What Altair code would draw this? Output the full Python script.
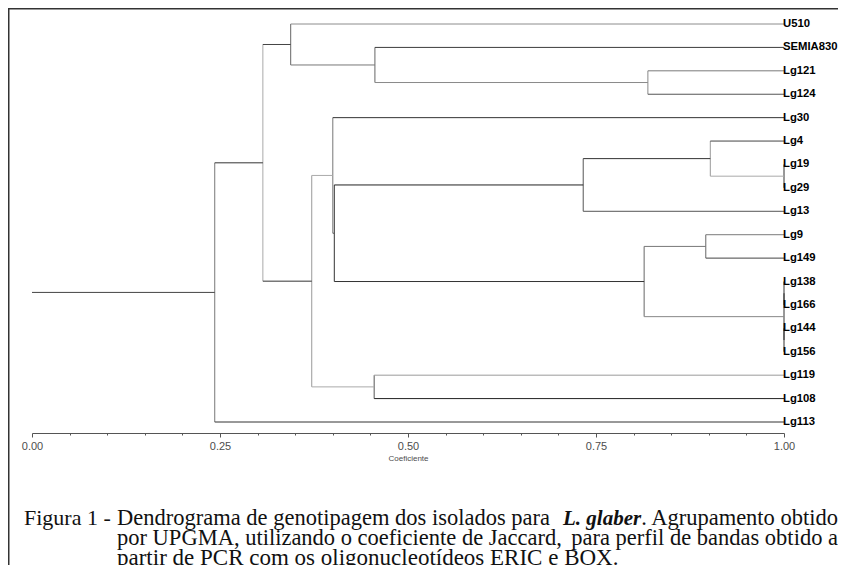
import altair as alt
import pandas as pd

# ---------------- data ----------------
leaves = ["U510", "SEMIA830", "Lg121", "Lg124", "Lg30", "Lg4", "Lg19", "Lg29",
          "Lg13", "Lg9", "Lg149", "Lg138", "Lg166", "Lg144", "Lg156",
          "Lg119", "Lg108", "Lg113"]

merge_node = ["n18", "n19", "n20", "n21", "n22", "n23", "n24", "n25", "n26",
              "n27", "n28", "n29", "n30", "n31", "n32", "n33", "n34"]
merge_left = ["Lg121", "SEMIA830", "U510", "Lg19", "Lg4", "n22", "Lg9", "Lg138",
              "Lg144", "n25", "n24", "n23", "Lg30", "Lg119", "n30", "n20", "n33"]
merge_right = ["Lg124", "n18", "n19", "Lg29", "n21", "Lg13", "Lg149", "Lg166",
               "Lg156", "n26", "n27", "n28", "n29", "Lg108", "n31", "n32", "Lg113"]
merge_coef = [0.819, 0.456, 0.344, 1.0, 0.902, 0.733, 0.896, 1.0, 1.0,
              1.0, 0.814, 0.402, 0.400, 0.455, 0.372, 0.307, 0.243]

axis_ticks = [round(i * 0.05, 2) for i in range(21)]

caption_l1a = "Figura 1 -"
caption_l1b = "Dendrograma de genotipagem dos isolados para"
caption_l1c = "L. glaber"
caption_l1d = ". Agrupamento obtido"
caption_l2a = "por UPGMA, utilizando o coeficiente de Jaccard,"
caption_l2b = "para perfil de bandas obtido a"
caption_l3 = "partir de PCR com os oligonucleotídeos ERIC e BOX."

# ---------------- styles (branch gray tones) ----------------
branch_gray = {
    "h:U510": "#8c8c8c", "h:SEMIA830": "#3c3c3c", "h:Lg121": "#7a7a7a",
    "h:Lg124": "#555555", "h:Lg30": "#333333", "h:Lg4": "#444444",
    "h:Lg13": "#555555", "h:Lg9": "#7a7a7a", "h:Lg149": "#444444",
    "h:Lg119": "#9a9a9a", "h:Lg108": "#222222", "h:Lg113": "#333333",
    "h:n18": "#8a8a8a", "h:n19": "#777777", "h:n20": "#444444",
    "h:n33": "#333333", "h:n32": "#333333", "h:n30": "#aaaaaa",
    "h:n31": "#aaaaaa", "h:n29": "#555555", "h:n23": "#222222",
    "h:n28": "#333333", "h:n22": "#333333", "h:n21": "#aaaaaa",
    "h:n24": "#777777", "h:n27": "#888888",
    "v:n34": "#777777", "v:n33": "#aaaaaa", "v:n20": "#666666",
    "v:n19": "#666666", "v:n18": "#888888", "v:n32": "#999999",
    "v:n30": "#777777", "v:n29": "#333333", "v:n23": "#555555",
    "v:n22": "#999999", "v:n21": "#333333", "v:n24": "#666666",
    "v:n28": "#666666", "v:n25": "#333333", "v:n26": "#333333",
    "v:n27": "#333333", "root": "#444444",
}

# ---------------- build dendrogram segments ----------------
ypos = {name: float(i) for i, name in enumerate(leaves)}
height = {name: 1.0 for name in leaves}
segs = []
for node, a, b, h in zip(merge_node, merge_left, merge_right, merge_coef):
    segs.append(dict(x=h, x2=h, y=ypos[a], y2=ypos[b],
                     c=branch_gray.get("v:" + node, "#555555")))
    for child in (a, b):
        segs.append(dict(x=h, x2=height[child], y=ypos[child], y2=ypos[child],
                         c=branch_gray.get("h:" + child, "#555555")))
    ypos[node] = (ypos[a] + ypos[b]) / 2.0
    height[node] = h
root = merge_node[-1]
segs.append(dict(x=0.0, x2=height[root], y=ypos[root], y2=ypos[root],
                 c=branch_gray["root"]))
seg_df = pd.DataFrame(segs)
leaf_df = pd.DataFrame({"name": leaves, "x": [1.0] * len(leaves),
                        "y": [float(i) for i in range(len(leaves))]})

# ---------------- chart ----------------
xscale = alt.Scale(domain=[0, 1], range=[24, 776], nice=False, zero=False)
yscale = alt.Scale(domain=[0, len(leaves) - 1], range=[16, 414], nice=False, zero=False)

major = "abs(datum.value*4-round(datum.value*4))<0.001"
xaxis = alt.Axis(
    values=axis_ticks,
    labelExpr=f"({major}) ? format(datum.value, '.2f') : ''",
    tickSize={"condition": {"test": major, "value": 4}, "value": 2},
    grid=False, domainColor="#555555", tickColor="#555555",
    labelColor="#4d4d4d", labelFont="Liberation Sans", labelFontSize=11,
    labelPadding=3, labelOverlap=False, labelFlush=False,
    title="Coeficiente", titleFont="Liberation Sans", titleFontSize=8,
    titleFontWeight="normal", titleColor="#4d4d4d", titlePadding=3,
)

branches = alt.Chart(seg_df).mark_rule(strokeWidth=1).encode(
    x=alt.X("x:Q", scale=xscale, axis=xaxis),
    x2="x2:Q",
    y=alt.Y("y:Q", scale=yscale, axis=None),
    y2="y2:Q",
    color=alt.Color("c:N", scale=None),
)

labels = alt.Chart(leaf_df).mark_text(
    align="left", baseline="middle", dx=-1, font="Liberation Sans",
    fontSize=11.3, fontWeight="bold", color="#000000",
).encode(
    x=alt.X("x:Q", scale=xscale, axis=xaxis),
    y=alt.Y("y:Q", scale=yscale, axis=None),
    text="name:N",
)

one = pd.DataFrame({"k": [0]})


def cap(text, x, y, align="left", bold=False, italic=False, size=22):
    return alt.Chart(one).mark_text(
        text=text, align=align, baseline="alphabetic",
        font="Liberation Serif", fontSize=size, color="#111111",
        fontWeight="bold" if bold else "normal",
        fontStyle="italic" if italic else "normal",
    ).encode(x=alt.value(x), y=alt.value(y))


captions = [
    cap(caption_l1a, 16, 517),
    cap(caption_l1b, 109, 517, size=22.5),
    cap(caption_l1c, 555, 517, bold=True, italic=True, size=21),
    cap(caption_l1d, 830, 517, align="right", size=22.5),
    cap(caption_l2a, 109, 537, size=22.5),
    cap(caption_l2b, 830, 537, align="right", size=22.5),
    cap(caption_l3, 109, 557, size=23),
]

frame_left = alt.Chart(one).mark_rule(color="#333333", strokeWidth=1.5).encode(
    x=alt.value(0.75), y=alt.value(0), y2=alt.value(557))
frame_top = alt.Chart(one).mark_rule(color="#333333", strokeWidth=1.5).encode(
    x=alt.value(0), x2=alt.value(830), y=alt.value(0.75))

chart = alt.layer(branches, labels, *captions, frame_left, frame_top).properties(
    width=830, height=425,
    autosize=alt.AutoSizeParams(type="none"),
    padding={"left": 0, "top": 0, "right": 0, "bottom": 132},
    background="#ffffff",
).configure_view(stroke=None)

chart.save("out.html", embed_options={"renderer": "svg", "actions": False})
